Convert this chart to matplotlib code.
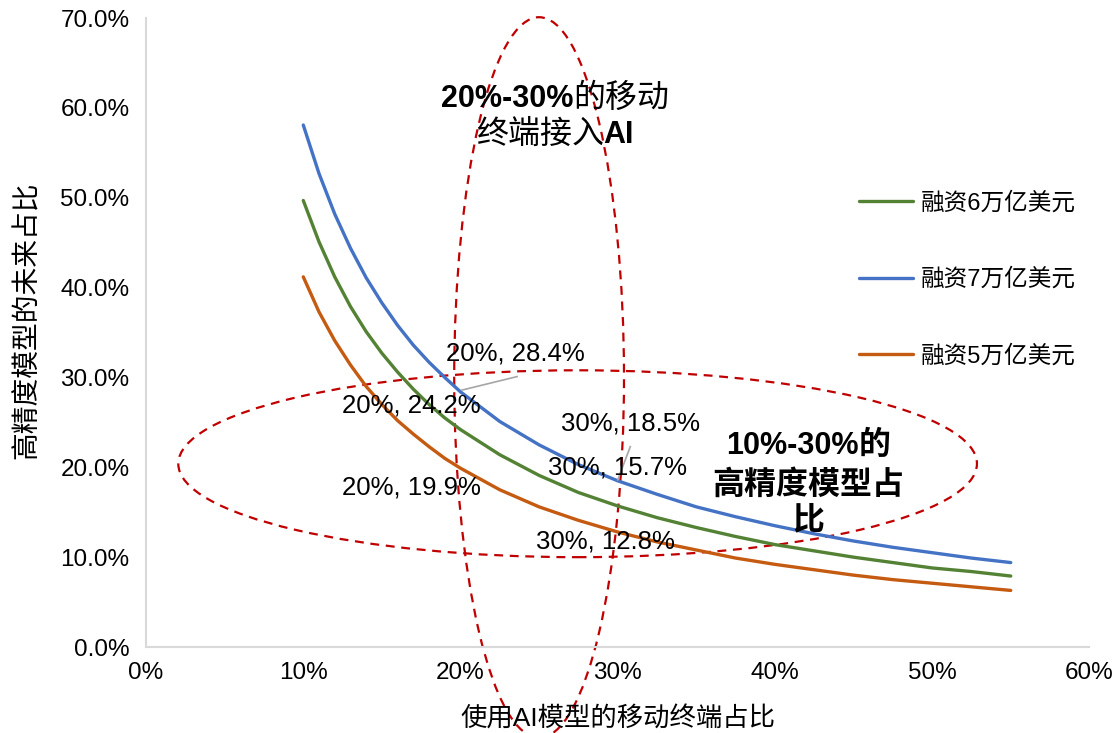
import numpy as np
import matplotlib
matplotlib.use("Agg")
import matplotlib.pyplot as plt
from matplotlib.patches import Ellipse
from matplotlib.ticker import FuncFormatter, MultipleLocator
from matplotlib.offsetbox import TextArea, HPacker, AnnotationBbox

plt.rcParams['font.family'] = ['Liberation Sans', 'Noto Sans CJK SC', 'DejaVu Sans']

# x: share of mobile terminals using AI models (%)
share_x = [10, 11, 12, 13, 14, 15, 16, 17, 18, 19, 20, 22.5, 25, 27.5, 30,
           32.5, 35, 37.5, 40, 42.5, 45, 47.5, 50, 52.5, 55]
# future share of high-precision models (%)
fund_6 = [49.7, 45.1, 41.2, 37.9, 35.1, 32.7, 30.6, 28.7, 27.0, 25.5, 24.2,
          21.4, 19.1, 17.2, 15.7, 14.4, 13.3, 12.3, 11.4, 10.7, 10.0, 9.4,
          8.8, 8.4, 7.9]
fund_7 = [58.1, 52.7, 48.2, 44.4, 41.1, 38.3, 35.8, 33.6, 31.7, 30.0, 28.4,
          25.1, 22.5, 20.3, 18.5, 17.0, 15.6, 14.5, 13.5, 12.6, 11.8, 11.1,
          10.5, 9.9, 9.4]
fund_5 = [41.2, 37.3, 34.1, 31.4, 29.0, 27.0, 25.2, 23.7, 22.3, 21.0, 19.9,
          17.5, 15.6, 14.1, 12.8, 11.7, 10.8, 9.9, 9.2, 8.6, 8.0, 7.5, 7.1,
          6.7, 6.3]
series_names = ['融资6万亿美元', '融资7万亿美元', '融资5万亿美元']
series_colors = ['#548235', '#4472C4', '#C55A11']

fig = plt.figure(figsize=(11.15, 7.33), dpi=100)
ax = fig.add_axes([0.131, 0.1173, 0.846, 0.858])

for ys, name, col in zip([fund_6, fund_7, fund_5], series_names, series_colors):
    ax.plot(share_x, ys, color=col, lw=2.4, label=name,
            solid_capstyle='round', solid_joinstyle='round')

ax.set_xlim(0, 60)
ax.set_ylim(0, 70)
ax.xaxis.set_major_locator(MultipleLocator(10))
ax.yaxis.set_major_locator(MultipleLocator(10))
ax.xaxis.set_major_formatter(FuncFormatter(lambda v, p: f"{v:.0f}%"))
ax.yaxis.set_major_formatter(FuncFormatter(lambda v, p: f"{v:.1f}%"))
ax.tick_params(length=0, labelsize=17.5)
ax.tick_params(axis='y', pad=12)
ax.tick_params(axis='x', pad=11)
for s in ['top', 'right']:
    ax.spines[s].set_visible(False)
for s in ['left', 'bottom']:
    ax.spines[s].set_color('#D9D9D9')
    ax.spines[s].set_linewidth(1.5)

fig.text(0.554, 1 - 718 / 733, '使用AI模型的移动终端占比', fontsize=19,
         ha='center', va='center')
fig.text(28 / 1115, 1 - 320 / 733, '高精度模型的未来占比', fontsize=20,
         ha='center', va='center', rotation=90)

# dashed highlight ellipses
ax.add_patch(Ellipse((25, 30), 10.8, 80.2, fill=False, ec='#C00000', lw=1.6,
                     ls=(0, (4, 3)), clip_on=False))
ax.add_patch(Ellipse((27.45, 20.4), 50.8, 20.8, fill=False, ec='#C00000', lw=1.6,
                     ls=(0, (4, 3)), clip_on=False))

# data labels
lab_kw = dict(fontsize=18.5, ha='center', va='center')
ax.text(23.5, 32.7, '20%, 28.4%', **lab_kw)
ax.text(16.9, 26.9, '20%, 24.2%', **lab_kw)
ax.text(30.8, 24.9, '30%, 18.5%', **lab_kw)
ax.text(30.0, 20.0, '30%, 15.7%', **lab_kw)
ax.text(16.9, 17.8, '20%, 19.9%', **lab_kw)
ax.text(29.2, 11.7, '30%, 12.8%', **lab_kw)
ax.plot([20.1, 23.6], [28.6, 30.1], color='#A6A6A6', lw=1.2)
ax.plot([30.0, 30.8], [18.6, 22.3], color='#A6A6A6', lw=1.2)

# callout text: bold latin, regular / bold CJK
latin_bold = dict(size=22, weight='bold', family=['Liberation Sans'])
cjk_reg = dict(size=23, family=['Noto Sans CJK SC'])
cjk_bold = dict(size=23, weight='bold', family=['Noto Sans CJK SC'])


def callout(parts, x, y):
    boxes = [TextArea(t, textprops=p) for t, p in parts]
    row = HPacker(children=boxes, pad=0, sep=0, align='baseline')
    ab = AnnotationBbox(row, (x, y), xycoords='data', frameon=False,
                        box_alignment=(0.5, 0.5), pad=0)
    ax.add_artist(ab)


callout([('20%-30%', latin_bold), ('的移动', cjk_reg)], 26.0, 61.1)
callout([('终端接入', cjk_reg), ('AI', latin_bold)], 26.0, 57.1)
callout([('10%-30%', latin_bold), ('的', cjk_bold)], 42.1, 22.5)
callout([('高精度模型占', cjk_bold)], 42.1, 18.1)
callout([('比', cjk_bold)], 42.1, 14.1)

fig.legend(loc='upper left', bbox_to_anchor=(0.751, 0.767), frameon=False,
           fontsize=17, labelspacing=2.28, handlelength=2.3, handletextpad=0.35)

fig.savefig('out.png', dpi=100)
